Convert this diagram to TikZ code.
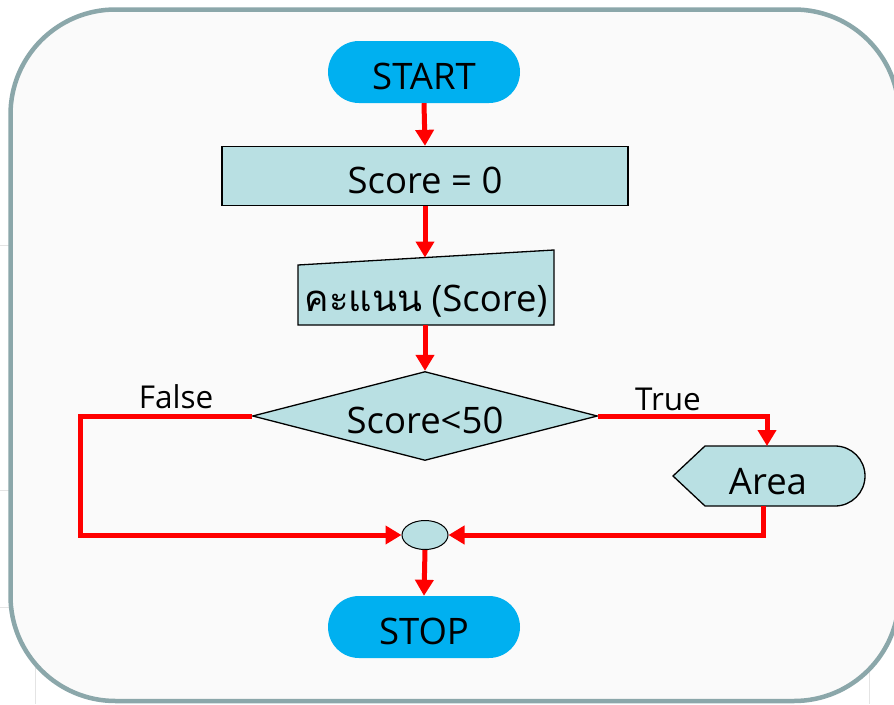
\documentclass[tikz,border=0pt]{standalone}
\usepackage{fontspec}
\setmainfont{Open Sans}
\newfontfamily\thaifont[Script=Thai]{Loma}
\usetikzlibrary{shapes.geometric,arrows.meta}
\definecolor{panelgray}{RGB}{250,250,250}
\definecolor{panelrim}{RGB}{139,167,170}
\definecolor{termblue}{RGB}{0,176,240}
\definecolor{boxteal}{RGB}{185,224,227}
\definecolor{flowred}{RGB}{255,0,0}
\definecolor{gridfaint}{RGB}{228,228,228}
\begin{document}
\begin{tikzpicture}[x=1pt,y=-1pt,
  bigtext/.style={font=\fontsize{36.5}{40}\selectfont},
  lowtext/.style={bigtext, text height=34pt, text depth=0pt},
  term/.style={lowtext, fill=termblue, rounded corners=31pt,
    minimum width=192pt, minimum height=62pt, inner sep=0pt},
  procbox/.style={lowtext, draw=black, line width=1.3pt, fill=boxteal,
    minimum width=406pt, minimum height=59pt, inner sep=0pt},
  outline/.style={draw=black, line width=1.3pt, fill=boxteal},
  decision/.style={lowtext, diamond, draw=black, line width=1.3pt, fill=boxteal,
    aspect=3.88, minimum width=345pt, minimum height=89pt, inner sep=0pt},
  joiner/.style={ellipse, draw=black, line width=1pt, fill=boxteal,
    minimum width=46pt, minimum height=29pt, inner sep=0pt},
  flow/.style={draw=flowred, line width=5pt,
    -{Triangle[width=18pt,length=16pt]}},
  branch/.style={font=\fontsize{31.5}{34}\selectfont}
]
\useasboundingbox (0,0) rectangle (894,704);
\fill[white] (0,0) rectangle (894,704);
% faint table rules of the slide behind the panel
\draw[gridfaint, line width=1pt] (0,245) -- (12,245) (0,490) -- (12,490) (0,607) -- (12,607)
  (35,640) -- (35,704) (869,660) -- (869,704);
% rounded panel
\draw[panelrim, line width=4.5pt, fill=panelgray, rounded corners=105pt]
  (10.5,9.5) rectangle (899,701);

% terminals and process
\node[term] (start) at (424,72) {START};
\node[procbox] (init) at (425,176) {Score = 0};

% manual input
\draw[outline] (298,265) -- (554,250) -- (554,325) -- (298,325) -- cycle;
\node[bigtext, inner sep=0pt] (input) at (426,301) {{\thaifont คะแนน} (Score)};
\coordinate (inputtop) at (425,257.5);
\coordinate (inputbot) at (425,325);

% decision
\node[decision] (dec) at (425,416) {Score<50};

% display
\draw[outline] (673,476) -- (705,446) -- (835,446)
  arc[start angle=90, end angle=-90, radius=30pt] -- (705,506) -- cycle;
\node[bigtext, inner sep=0pt] (area) at (768,482) {Area};
\coordinate (areatop) at (767,446);
\coordinate (areabot) at (763,506);

% connector and stop
\node[joiner] (join) at (425,535) {};
\node[term] (stop) at (424,627) {STOP};

% branch labels
\node[branch] (flabel) at (176,397) {False};
\node[branch] (tlabel) at (668,399) {True};

% flow lines
\coordinate (lcorner) at (80,416);
\draw[flow] (start.south) -- (init.north);
\draw[flow] (init.south) -- (inputtop);
\draw[flow] (inputbot) -- (dec.north);
\draw[flow] (dec.west) -- (lcorner) |- (join.west);
\draw[flow] (dec.east) -| (areatop);
\draw[flow] (areabot) |- (join.east);
\draw[flow] (join.south) -- (stop.north);
\end{tikzpicture}
\end{document}
